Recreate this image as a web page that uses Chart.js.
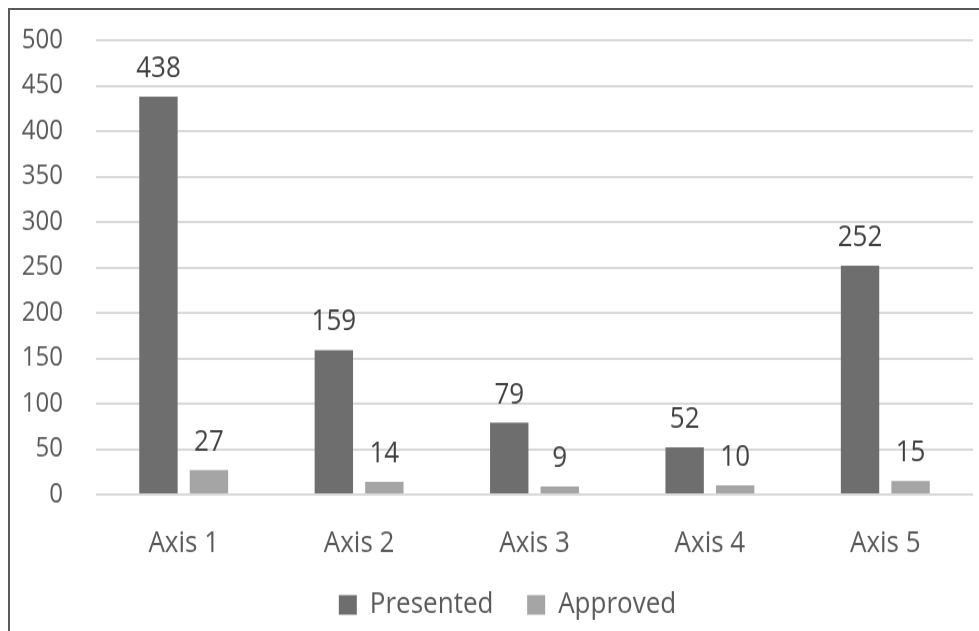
<!DOCTYPE html>
<html>
<head>
<meta charset="utf-8">
<script src="https://cdn.jsdelivr.net/npm/chart.js@4"></script>
<style>
    html, body { margin: 0; padding: 0; background: #fff; overflow: hidden; }
    body { width: 979px; height: 631px; position: relative; }
    .frame {
        position: absolute; left: 8px; top: 8px; width: 2000px; height: 2000px;
        border-top: 2px solid #5a5a5a; border-left: 2px solid #5a5a5a;
    }
    .wrap {
        position: absolute; left: 0; top: 0; width: 979px; height: 549px;
        transform: scaleY(1.15); transform-origin: 0 0;
    }
</style>
</head>
<body>
<div class="frame"></div>
<div class="wrap"><canvas id="barChart"></canvas></div>
<script>
const categories = ["Axis 1", "Axis 2", "Axis 3", "Axis 4", "Axis 5"];
const presented = [438, 159, 79, 52, 252];
const approved = [27, 14, 9, 10, 15];
const yTicks = [0, 50, 100, 150, 200, 250, 300, 350, 400, 450, 500];

const FONT = "'Open Sans', 'Noto Sans', sans-serif";

// write each bar's value just above it
const valueLabels = {
    id: "valueLabels",
    afterDatasetsDraw(chart) {
        const ctx = chart.ctx;
        ctx.save();
        ctx.font = `26px ${FONT}`;
        ctx.fillStyle = "#404040";
        ctx.textAlign = "center";
        ctx.textBaseline = "alphabetic";
        chart.data.datasets.forEach((ds, i) => {
            chart.getDatasetMeta(i).data.forEach((bar, j) => {
                ctx.fillText(String(ds.data[j]), bar.x, bar.y - 17);
            });
        });
        ctx.restore();
    }
};

// nudge the legend a bit to the right
const legendShift = {
    id: "legendShift",
    afterLayout(chart) {
        if (chart.legend) {
            chart.legend.left += 10;
            chart.legend.right += 10;
        }
    }
};

document.addEventListener("DOMContentLoaded", function () {
    const ctx = document.getElementById("barChart").getContext("2d");

    new Chart(ctx, {
        type: "bar",
        data: {
            labels: categories,
            datasets: [
                {
                    label: "Presented",
                    data: presented,
                    backgroundColor: "#6e6e6e",
                    categoryPercentage: 0.576,
                    barPercentage: 0.76,
                },
                {
                    label: "Approved",
                    data: approved,
                    backgroundColor: "#a5a5a5",
                    categoryPercentage: 0.576,
                    barPercentage: 0.76,
                },
            ],
        },
        options: {
            responsive: true,
            maintainAspectRatio: false,
            animation: false,
            layout: { padding: { left: 22, right: 6, top: 35, bottom: 0 } },
            plugins: {
                legend: {
                    position: "bottom",
                    labels: {
                        boxWidth: 18,
                        boxHeight: 17,
                        padding: 27,
                        color: "#595959",
                        font: { family: FONT, size: 26 },
                        // a little extra room after the first entry
                        generateLabels: (chart) => {
                            const items = Chart.defaults.plugins.legend.labels.generateLabels(chart);
                            items[0].text += " ";
                            return items;
                        },
                    },
                },
                tooltip: { enabled: false },
            },
            scales: {
                x: {
                    grid: { display: false },
                    border: { display: false },
                    ticks: { color: "#595959", padding: 19, font: { family: FONT, size: 26 } },
                    afterFit: (axis) => { axis.height = 56; },
                },
                y: {
                    min: 0,
                    max: 500,
                    afterBuildTicks: (axis) => { axis.ticks = yTicks.map((v) => ({ value: v })); },
                    grid: { color: "#d9d9d9", lineWidth: 2, drawTicks: false },
                    border: { display: false },
                    ticks: { color: "#595959", padding: 33, font: { family: FONT, size: 24 } },
                    afterFit: (axis) => {
                        axis.width = 74;
                        axis.paddingTop = 0;
                        axis.paddingBottom = 0;
                    },
                },
            },
        },
        plugins: [valueLabels, legendShift],
    });
});
</script>
</body>
</html>
